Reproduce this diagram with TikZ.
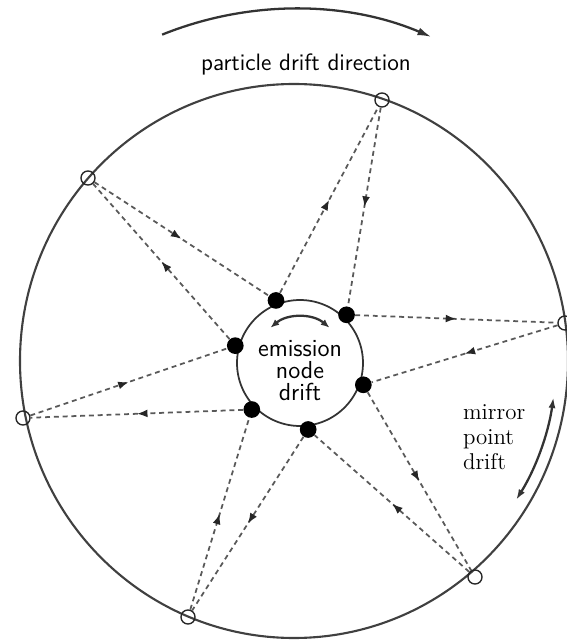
\documentclass[tikz,border=0pt]{standalone}
\usepackage{tikz}
\usetikzlibrary{positioning,arrows.meta,calc,decorations.markings}
\tikzset{
  rim/.style={draw=black!75,line width=1.2pt},
  hub/.style={draw=black!80,circle,line width=1pt,minimum size=2.52cm,inner sep=0pt},
  emit/.style={fill=black,circle,minimum size=9.5pt,inner sep=0pt},
  mirror/.style={draw=black!85,circle,line width=0.8pt,minimum size=8pt,inner sep=0pt},
  ray/.style={draw=black!65,line width=1pt,dash pattern=on 2.8pt off 2.2pt,
    postaction={decorate},
    decoration={markings,mark=at position 0.5 with {\arrow[black!85]{Latex[length=6pt,width=4.5pt]}}}},
  drift/.style={draw=black!80,line width=1.3pt},
  lbl/.style={align=center,inner sep=1pt},
}
\begin{document}
\begin{tikzpicture}[x=0.02cm,y=0.02cm]
\useasboundingbox (0,0) rectangle (567,640);
% outer ring and emission hub
\coordinate (big) at (294,279);
\draw[rim] (big) ellipse [x radius=274,y radius=277];
\node[hub] (hub) at (300,277) {};
\node[lbl,font=\sffamily\fontsize{14}{12.5}\selectfont] (hubtxt) at (300,269) {emission\\node\\drift};
% emission nodes
\node[emit] (e1) at ([shift={(111:67)}]hub.center) {};
\node[emit] (e2) at ([shift={(46:67)}]hub.center) {};
\node[emit] (e3) at ([shift={(-19:67)}]hub.center) {};
\node[emit] (e4) at ([shift={(-83:67)}]hub.center) {};
\node[emit] (e5) at ([shift={(-136:67)}]hub.center) {};
\node[emit] (e6) at ([shift={(165:67)}]hub.center) {};
% mirror points on the ring
\node[mirror] (m1) at (382,540) {};
\node[mirror] (m2) at (565,317) {};
\node[mirror] (m3) at (475,63) {};
\node[mirror] (m4) at (188,23) {};
\node[mirror] (m5) at (23,222) {};
\node[mirror] (m6) at (88,462) {};
% rays
\draw[ray] (e1) -- (m1);
\draw[ray] (m1) -- (e2);
\draw[ray] (e2) -- (m2);
\draw[ray] (m2) -- (e3);
\draw[ray] (e3) -- (m3);
\draw[ray] (m3) -- (e4);
\draw[ray] (e4) -- (m4);
\draw[ray] (m4) -- (e5);
\draw[ray] (e5) -- (m5);
\draw[ray] (m5) -- (e6);
\draw[ray] (e6) -- (m6);
\draw[ray] (m6) -- (e1);
% drift arrows
\draw[drift,-{Latex[length=8pt,width=4.5pt]}] ([shift={(112:352)}]big) arc[start angle=112,end angle=67,radius=352];
\node[lbl,font=\sffamily\fontsize{13.5}{14}\selectfont] (toptxt) at (306,576) {particle drift direction};
\draw[drift,{Latex[length=6pt,width=4pt]}-{Latex[length=6pt,width=4pt]}] ([shift={(-8:262)}]big) arc[start angle=-8,end angle=-32,radius=262];
\node[lbl,align=left,anchor=west,font=\fontsize{13}{14.2}\selectfont] (mirtxt) at (461,203) {mirror\\point\\drift};
\draw[drift,{Latex[length=5pt,width=4pt]}-{Latex[length=5pt,width=4pt]}] ([shift={(130:46)}]hub.center) arc[start angle=130,end angle=50,radius=46];
\end{tikzpicture}
\end{document}
